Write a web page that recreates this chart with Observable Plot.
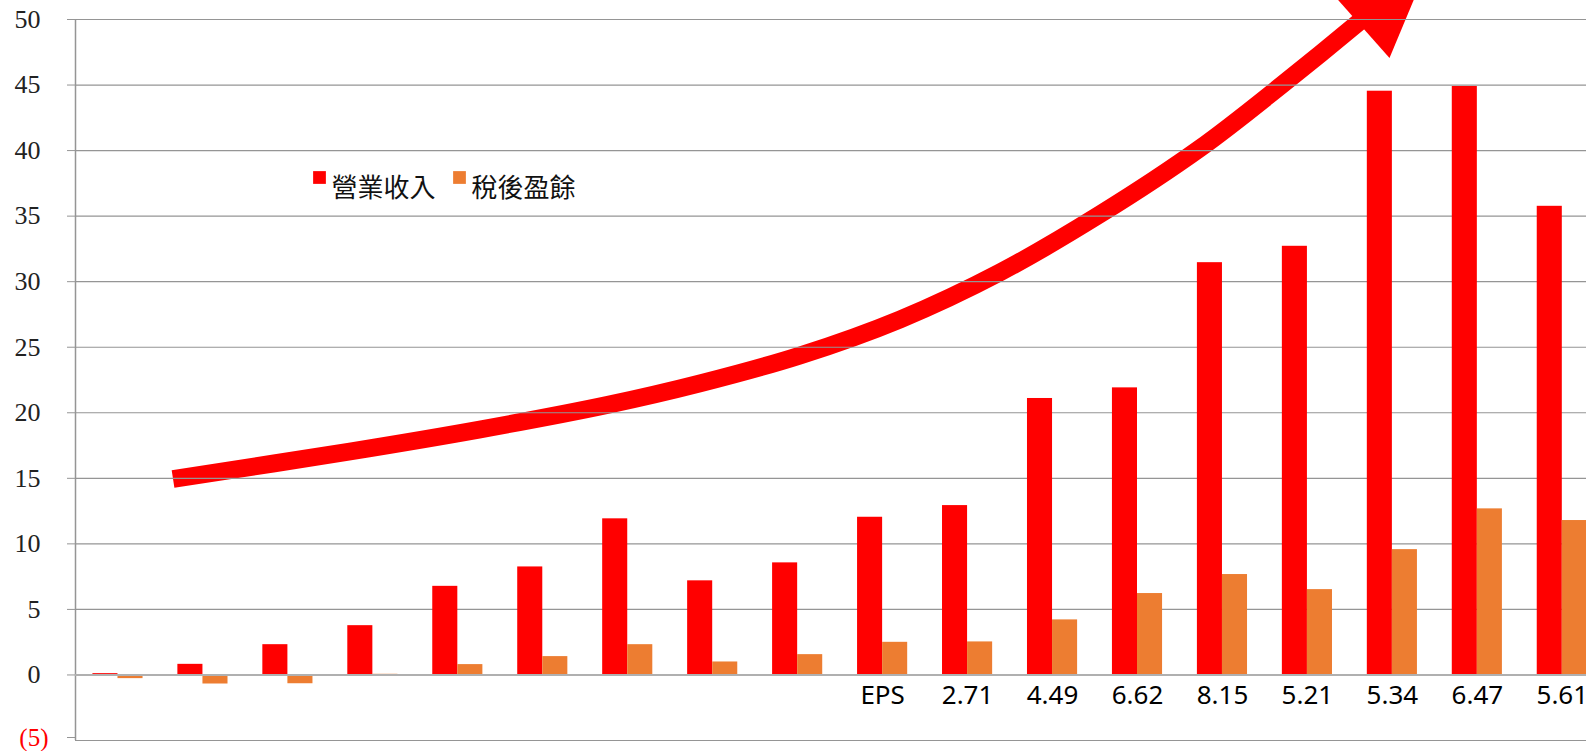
<!DOCTYPE html>
<html>
<head>
<meta charset="utf-8">
<script src="https://cdn.jsdelivr.net/npm/d3@7"></script>
<script src="https://cdn.jsdelivr.net/npm/@observablehq/plot@0.6"></script>
<style>
html, body { margin: 0; padding: 0; background: #fff; overflow: hidden; }
#chart svg { display: block; }
</style>
</head>
<body>
<div id="chart"></div>
<script>
// ---- data ----
const categories = [1, 2, 3, 4, 5, 6, 7, 8, 9, 10, 11, 12, 13, 14, 15, 16, 17, 18];
const revenue   = [0.1, 0.81, 2.31, 3.76, 6.76, 8.24, 11.91, 7.18, 8.55, 12.03, 12.92, 21.09, 21.9, 31.45, 32.7, 44.53, 44.89, 35.75];
const netIncome = [-0.28, -0.69, -0.67, 0.05, 0.79, 1.40, 2.31, 0.99, 1.55, 2.49, 2.52, 4.20, 6.21, 7.66, 6.51, 9.56, 12.67, 11.78];
const epsLabels = ["", "", "", "", "", "", "", "", "", "EPS", "2.71", "4.49", "6.62", "8.15", "5.21", "5.34", "6.47", "5.61"];
const yTicks = [0, 5, 10, 15, 20, 25, 30, 35, 40, 45, 50];
const negativeTicks = [-5];
const seriesNames = ["營業收入", "稅後盈餘"];
const seriesColors = ["#FF0000", "#ED7D31"];
// trend arrow (category position, value)
const trendArrow = [
  [1.648, 14.95], [3.731, 17.05], [5.261, 18.73], [6.756, 20.59], [7.851, 22.24],
  [9.028, 24.37], [10.205, 27.12], [11.382, 30.71], [12.559, 35.14], [13.736, 40.18],
  [14.701, 45.02], [15.599, 49.76], [15.70, 50.32]
];
const arrowHead = [
  {x: 15.225, y1: 52.49, y2: 52.49},
  {x: 15.972, y1: 47.02, y2: 53.84},
  {x: 16.468, y1: 54.73, y2: 54.73}
];

// ---- layout ----
const W = 1586, H = 751;
const mL = 75, mR = 0, mT = 19, mB = 11;
const groupStep = 84.96;
const xMax = 0.5 + (W - mL - mR) / groupStep;
const barW = 0.295;
const grid = "#959595";

const revData = categories.map((c, i) => ({c, v: revenue[i]}));
const niData = categories.map((c, i) => ({c, v: netIncome[i]}));
const epsData = categories.map((c, i) => ({c, t: epsLabels[i]})).filter(d => d.t !== "");

const legendMarks = seriesNames.flatMap((name, i) => [
  Plot.dot([name], {frameAnchor: "top-left", dx: 244 + 140 * i, dy: 158, symbol: "square", r: 7.2, fill: seriesColors[i], stroke: null}),
  Plot.text([name], {frameAnchor: "top-left", dx: 256 + 140 * i, dy: 159, text: d => d, textAnchor: "start",
    fontSize: 26, fontFamily: "Noto Sans CJK TC", fill: "#111"})
]);

const chart = Plot.plot({
  width: W, height: H,
  marginLeft: mL, marginRight: mR, marginTop: mT, marginBottom: mB,
  style: {background: "#fff", overflow: "visible"},
  x: {type: "linear", domain: [0.5, xMax], axis: null},
  y: {domain: [-5, 50], axis: null},
  marks: [
    // arrow (drawn behind the gridlines, as in the original)
    Plot.line(trendArrow, {x: d => d[0], y: d => d[1], stroke: "#FF0000", strokeWidth: 17.8,
      curve: "catmull-rom", strokeLinecap: "butt", strokeLinejoin: "round"}),
    Plot.area(arrowHead, {x1: "x", y1: "y1", y2: "y2", fill: "#FF0000", curve: "linear"}),
    // gridlines
    Plot.ruleY(yTicks.filter(d => d !== 0).concat(negativeTicks), {stroke: grid, strokeWidth: 1.2}),
    // y axis line
    Plot.ruleX([0.5], {y1: -5, y2: 50, stroke: grid, strokeWidth: 1.5}),
    // y axis ticks + labels
    Plot.axisY({ticks: yTicks, anchor: "left", tickSize: 8, tickPadding: 27, stroke: grid,
      fill: "#222", fontSize: 26, fontFamily: "Liberation Serif", label: null}),
    Plot.axisY({ticks: negativeTicks, anchor: "left", tickSize: 8, tickPadding: 19, stroke: grid, dy: -3,
      tickFormat: d => `(${-d})`, fill: "#FF0000", fontSize: 25, fontFamily: "Liberation Serif", label: null}),
    // bars
    Plot.rect(revData, {x1: d => d.c - barW, x2: d => d.c, y1: 0, y2: d => d.v, fill: seriesColors[0]}),
    Plot.rect(niData, {x1: d => d.c, x2: d => d.c + barW, y1: 0, y2: d => d.v, fill: seriesColors[1]}),
    // horizontal axis line at zero
    Plot.ruleY([0], {stroke: "#b0b0b0", strokeWidth: 2}),
    // EPS row
    Plot.text(epsData, {x: "c", y: 0, dy: 21, text: "t", fontSize: 26, fontFamily: "Noto Sans", fill: "#000"}),
    ...legendMarks
  ]
});
document.getElementById("chart").appendChild(chart);
</script>
</body>
</html>
